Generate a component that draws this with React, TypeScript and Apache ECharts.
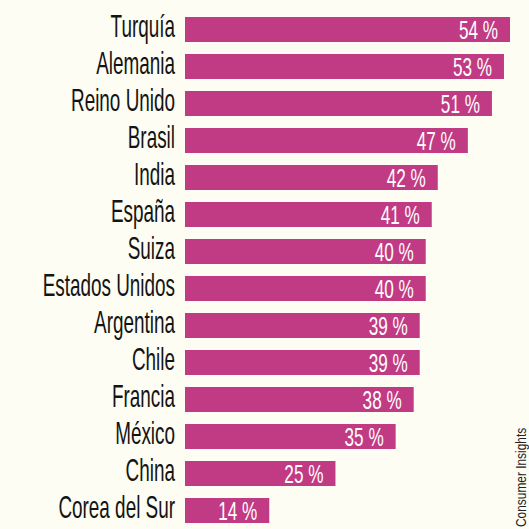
import React, { useEffect, useRef } from "react";
import * as echarts from "echarts";

const categories = [
  "Turquía", "Alemania", "Reino Unido", "Brasil", "India", "España", "Suiza",
  "Estados Unidos", "Argentina", "Chile", "Francia", "México", "China", "Corea del Sur",
];
const values = [54, 53, 51, 47, 42, 41, 40, 40, 39, 39, 38, 35, 25, 14];
const sourceText = "Consumer Insights";

const FONT = "'Liberation Sans', Arial, sans-serif";
const BAR = "#c13b84";
const BG = "#fdfdf3";

export default function App() {
  const ref = useRef<HTMLDivElement>(null);
  useEffect(() => {
    document.body.style.margin = "0";
    const chart = echarts.init(ref.current!, undefined, { renderer: "svg" });
    const data = values.map((v, i) => [v, i]);
    chart.setOption({
      animation: false,
      backgroundColor: BG,
      grid: { left: 185, right: 19, top: 11, height: 523 },
      xAxis: { type: "value", min: 0, max: 54, show: false },
      yAxis: {
        type: "category",
        data: categories,
        inverse: true,
        axisLine: { show: false },
        axisTick: { show: false },
        axisLabel: { show: false },
        splitLine: { show: false },
      },
      series: [
        {
          type: "bar",
          data: values,
          barWidth: 25,
          itemStyle: { color: BAR },
          silent: true,
          z: 2,
        },
        {
          type: "custom",
          data,
          z: 10,
          clip: false,
          encode: { x: 0, y: 1 },
          renderItem: (params: any, api: any) => {
            const v = api.value(0);
            const idx = api.value(1);
            const start = api.coord([0, idx]);
            const end = api.coord([v, idx]);
            return {
              type: "group",
              children: [
                {
                  type: "text",
                  x: start[0] - 10,
                  y: start[1] - 3,
                  scaleX: 0.61,
                  z2: 10,
                  style: {
                    text: categories[idx],
                    fontSize: 31,
                    fontFamily: FONT,
                    fill: "#141414",
                    align: "right",
                    verticalAlign: "middle",
                  },
                },
                {
                  type: "text",
                  x: end[0] - 12,
                  y: end[1] + 1,
                  scaleX: 0.66,
                  z2: 10,
                  style: {
                    text: v + " %",
                    fontSize: 26,
                    fontFamily: FONT,
                    fill: "#ffffff",
                    align: "right",
                    verticalAlign: "middle",
                  },
                },
              ],
            };
          },
        },
      ],
      graphic: [
        {
          type: "text",
          x: 528,
          y: 527,
          rotation: Math.PI / 2,
          scaleX: 0.85,
          style: {
            text: sourceText,
            fontSize: 14,
            fontFamily: FONT,
            fill: "#222222",
            align: "left",
            verticalAlign: "bottom",
          },
        },
      ],
    });
    return () => chart.dispose();
  }, []);
  return (
    <div
      ref={ref}
      style={{ position: "fixed", left: 0, top: 0, width: 529, height: 529 }}
    />
  );
}
